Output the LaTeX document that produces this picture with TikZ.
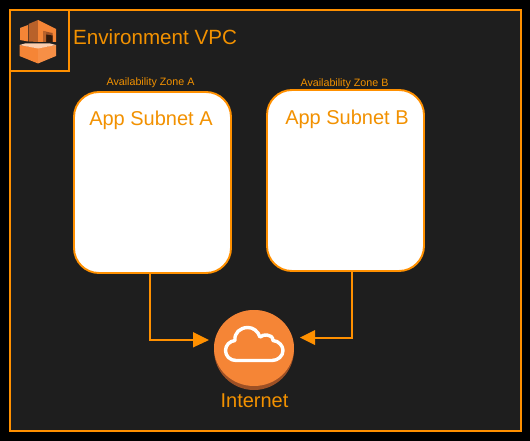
\documentclass[tikz,border=0pt]{standalone}
\usepackage{fontspec}
\setmainfont{Liberation Sans}
\definecolor{ol}{HTML}{FF9000}
\definecolor{txt}{HTML}{F29100}
\definecolor{bgd}{HTML}{1E1E1E}
\definecolor{aws}{HTML}{F58536}
\definecolor{awsd}{HTML}{9D5025}
\definecolor{awsm}{HTML}{B8612A}
\begin{document}
\begin{tikzpicture}[x=1pt,y=-1pt,
  frame/.style={draw=ol,line width=1.9pt,outer sep=0pt},
  subnet/.style={draw=ol,line width=1.9pt,fill=white,rounded corners=25pt,minimum width=157pt,minimum height=181pt,inner sep=0pt,outer sep=0pt},
  lbl/.style={text=txt,inner sep=0pt,anchor=base},
  conn/.style={draw=ol,line width=1.9pt},
  tip/.style={fill=ol,draw=none}]
\useasboundingbox (0,0) rectangle (530,441);
\fill[black] (0,0) rectangle (530,441);
\node[frame,fill=bgd,minimum width=511pt,minimum height=421pt,inner sep=0pt,anchor=north west] (vpc) at (10,10) {};
\node[frame,minimum width=59pt,minimum height=61pt,inner sep=0pt,anchor=north west] (iconbox) at (10,10) {};
% icon
\fill[aws] (20,28) -- (28,25) -- (28,41.5) -- (20,40) -- cycle;
\fill[awsm] (38,20) -- (28.5,24) -- (28.5,41.5) -- (38,42) -- cycle;
\fill[aws] (38,20) -- (56,29) -- (56,42) -- (38,42) -- cycle;
\fill[awsd] (43,31) -- (52.5,33) -- (52.5,42) -- (43,42) -- cycle;
\fill[black!70!awsd] (46,34.5) -- (52.5,35.5) -- (52.5,42) -- (46,42) -- cycle;
\fill[awsm] (43,31) -- (46,31.7) -- (46,42) -- (43,42) -- cycle;
\fill[aws] (19.5,45) -- (38,48) -- (38,63.5) -- (19.5,56) -- cycle;
\fill[aws!92!white] (38,48) -- (56,45) -- (56,56) -- (38,63.5) -- cycle;
\fill[aws!40!white] (19.5,45) -- (25,43.5) -- (50,43.5) -- (56,45) -- (38,48.5) -- cycle;
\node[lbl,font=\fontsize{20.6}{24}\selectfont,anchor=base west] (title) at (73,45) {Environment VPC};
\node[subnet,anchor=north west] (suba) at (74,92) {};
\node[subnet,anchor=north west] (subb) at (267,90) {};
\node[lbl,font=\fontsize{10.7}{12}\selectfont] (za) at (150.5,86) {Availability Zone A};
\node[lbl,font=\fontsize{10.7}{12}\selectfont] (zb) at (344.5,87) {Availability Zone B};
\node[lbl,font=\fontsize{20}{24}\selectfont] (ta) at (151,126) {App Subnet A};
\node[lbl,font=\fontsize{20}{24}\selectfont] (tb) at (347,125) {App Subnet B};
% internet
\fill[awsd] (254,350) circle (40);
\node[circle,fill=none,minimum size=80pt,inner sep=0pt] (inet) at (254,350) {};
\fill[aws] (254,348) ellipse (40 and 38);
\draw[white,line width=3.4pt,line join=round] (236,360.5)
  .. controls (230,360.5) and (225.5,356) .. (225.5,350.5)
  .. controls (225.5,345) and (230,341) .. (235,340.5)
  .. controls (234,333) and (240,327.5) .. (248,327.5)
  .. controls (253,327.5) and (258,331) .. (260,337)
  .. controls (262,335) and (265,335) .. (267,335)
  .. controls (270,335) and (273,337) .. (273,340.5)
  .. controls (279,341) and (283,346) .. (283,350.5)
  .. controls (283,356) and (278,360.5) .. (272,360.5) -- cycle;
\node[lbl,font=\fontsize{20}{24}\selectfont] (tinet) at (254.5,407) {Internet};
% connectors
\coordinate (ae) at (196,340);
\coordinate (be) at (312,338);
\draw[conn] ([xshift=-2.5pt]suba.south) |- (ae);
\draw[conn] ([xshift=6.9pt]subb.south) |- (be);
\fill[tip] (193,332) -- (209,340) -- (193,347.5) -- cycle;
\fill[tip] (315,330) -- (300,337.5) -- (315,345) -- cycle;
\end{tikzpicture}
\end{document}
